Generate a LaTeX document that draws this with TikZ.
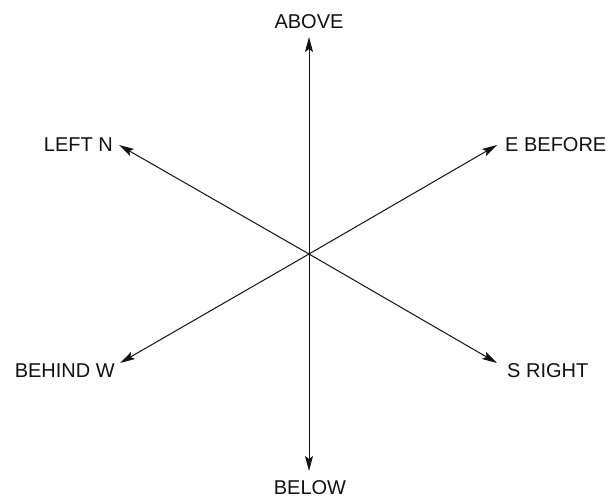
\documentclass[tikz,border=0pt]{standalone}
\usepackage{fontspec}
\setmainfont{Liberation Sans}
\usepackage{xcolor}
\definecolor{ink}{HTML}{111111}
\usetikzlibrary{arrows.meta}

\begin{document}
\begin{tikzpicture}[x=1pt,y=-1pt,
  axis/.style={ink, line width=1pt, -{Stealth[length=15pt,width=8pt,inset=3pt]}},
  dirlabel/.style={font=\fontsize{20}{24}\selectfont, text=ink, inner sep=0pt}]
  \useasboundingbox (0,0) rectangle (614,498);
  % origin and arrow tips
  \coordinate (o) at (309,254);
  \coordinate (tipU) at (309,37);
  \coordinate (tipD) at (309,471);
  \coordinate (tipUL) at (119,145);
  \coordinate (tipUR) at (497,145);
  \coordinate (tipLL) at (120,363);
  \coordinate (tipLR) at (497,363);
  % six directions
  \foreach \t in {tipU,tipD,tipUL,tipUR,tipLL,tipLR}
    \draw[axis] (o) -- (\t);
  % labels
  \node[dirlabel, anchor=base] (lAbove) at (309,28) {ABOVE};
  \node[dirlabel, anchor=base] (lBelow) at (310,494.5) {BELOW};
  \node[dirlabel, anchor=base east] (lLeft) at (113,151) {LEFT N};
  \node[dirlabel, anchor=base west] (lBefore) at (505,151) {E BEFORE};
  \node[dirlabel, anchor=base east] (lBehind) at (115,377) {BEHIND W};
  \node[dirlabel, anchor=base west] (lRight) at (507,377) {S RIGHT};
\end{tikzpicture}
\end{document}
